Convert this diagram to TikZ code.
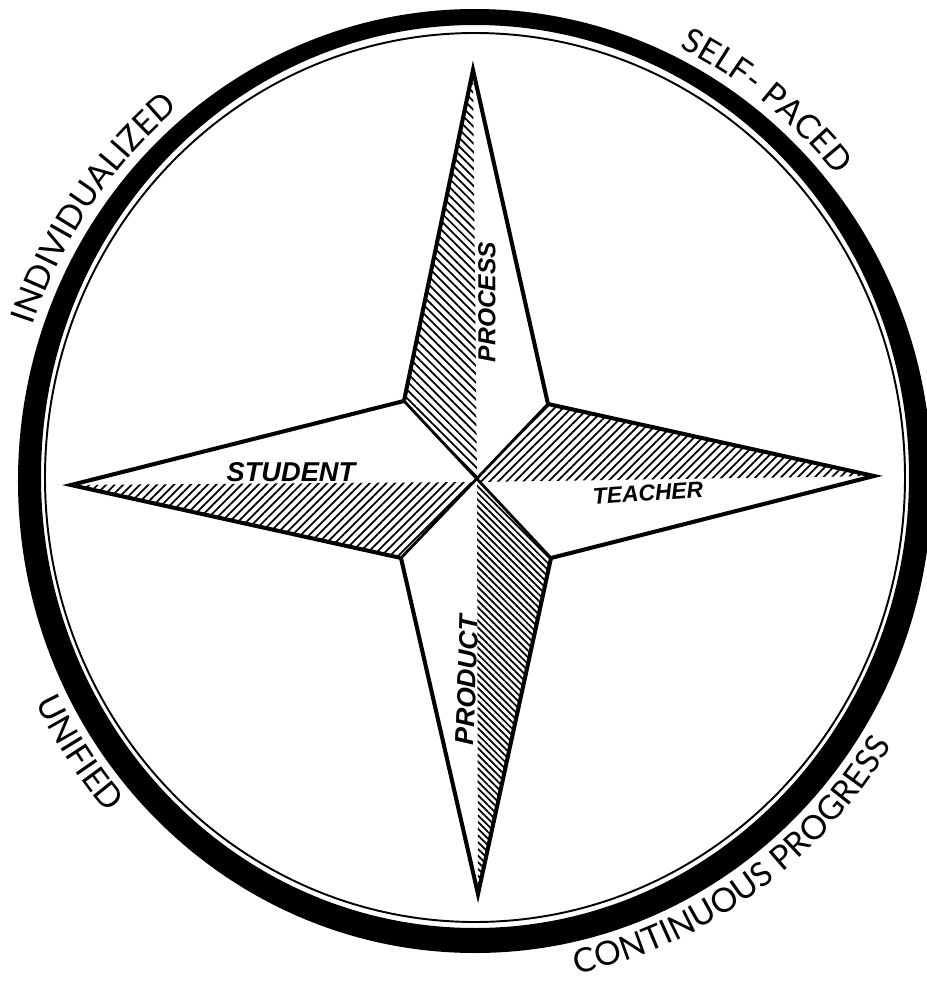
\documentclass[tikz,border=0pt]{standalone}
\usepackage{fontspec}
\setmainfont{Liberation Sans}
\newfontfamily\ringfont{Lato}
\usepackage{tikz}
\usetikzlibrary{decorations.text,patterns.meta}
\tikzset{
  rim/.style={line width=1.1pt},
  edge/.style={line width=2.3pt, line join=miter, miter limit=20},
  valley/.style={line width=1.6pt},
  hatchup/.style={pattern={Lines[angle=45,distance=3.4pt,line width=1pt]}},
  hatchdown/.style={pattern={Lines[angle=-45,distance=3.4pt,line width=1pt]}},
  hatchdense/.style={pattern={Lines[angle=-45,distance=2.7pt,line width=1pt]}},
  armlabel/.style={font=\bfseries\itshape\fontsize{#1}{#1}\selectfont, inner sep=0pt},
  ringtext/.style={decorate, decoration={text along path, text align=center,
    text={|\ringfont\fontsize{19}{22}\selectfont|#1}}},
}
\begin{document}
\begin{tikzpicture}[x=0.02cm,y=0.02cm]
\useasboundingbox (-475,-510) rectangle (452,478);
\fill[even odd rule] (0,-3) ellipse [x radius=457,y radius=472] (0,1.5) ellipse [x radius=434,y radius=451.5];
\draw[rim] (0,0.5) ellipse [x radius=430,y radius=444.5];
\coordinate (hub) at (2,-4);
\coordinate (top) at (-2,408);
\coordinate (bot) at (3,-416);
\coordinate (lft) at (-404,-7);
\coordinate (rgt) at (399,2);
\coordinate (nw) at (-71,77);
\coordinate (ne) at (73,74);
\coordinate (se) at (76,-80);
\coordinate (sw) at (-74,-80);
\fill[hatchdown] (hub) -- (nw) -- (top) -- cycle;
\fill[hatchup] (hub) -- (ne) -- (rgt) -- cycle;
\fill[hatchdense] (hub) -- (se) -- (bot) -- cycle;
\fill[hatchup] (hub) -- (sw) -- (lft) -- cycle;
\draw[valley] (nw) -- (se) (ne) -- (sw);
\draw[edge] (top) -- (ne) -- (rgt) -- (se) -- (bot) -- (sw) -- (lft) -- (nw) -- cycle;
\node[armlabel=15.5] (student) at (-184,6) {STUDENT};
\node[armlabel=13, rotate=4] (teacher) at (173,-15) {TEACHER};
\node[armlabel=14, rotate=90] (process) at (12,176) {PROCESS};
\node[armlabel=15, rotate=88] (product) at (-8,-202) {PRODUCT};
\path[ringtext=INDIVIDUALIZED, shift={(0,-3)}] (185:467 and 482) arc[start angle=185,end angle=105,x radius=467,y radius=482];
\path[ringtext=SELF- PACED, shift={(0,-3)}] (92:467 and 482) arc[start angle=92,end angle=12,x radius=467,y radius=482];
\path[ringtext=UNIFIED, shift={(0,-3)}] (174:489 and 504) arc[start angle=174,end angle=254,x radius=489,y radius=504];
\path[ringtext=CONTINUOUS PROGRESS, shift={(0,-3)}] (265:489 and 504) arc[start angle=265,end angle=345,x radius=489,y radius=504];
\end{tikzpicture}
\end{document}
